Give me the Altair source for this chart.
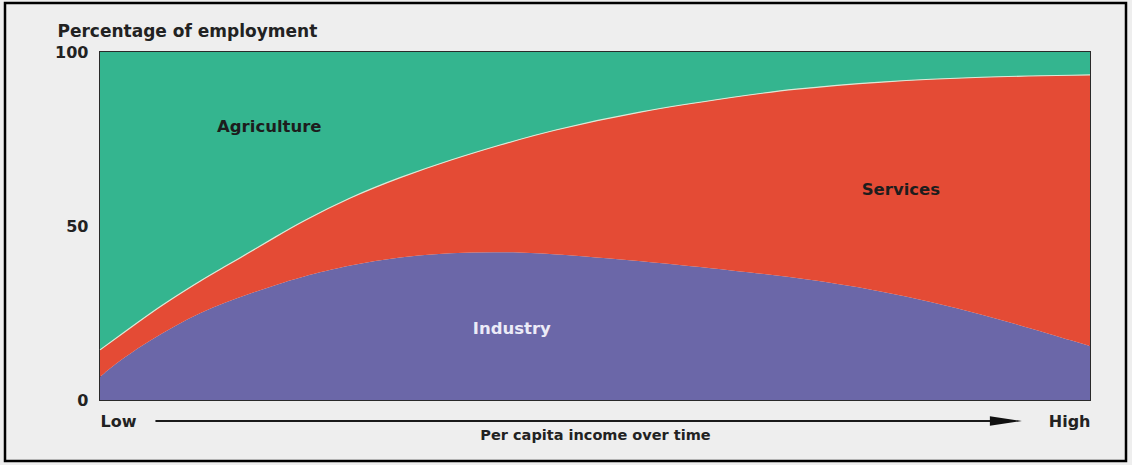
import altair as alt
import pandas as pd

# income position (0 = Low, 100 = High)
income = [0, 2.5, 5.1, 7.6, 10.1, 12.6, 15.2, 17.7, 20.2, 25.3, 30.3, 35.4, 40.4, 45.5, 54.5, 64.6, 69.7, 78.8, 88.9, 100]
industry = [6.7, 12.4, 17.2, 21.4, 25.0, 28.0, 30.7, 33.0, 35.3, 38.8, 41.2, 42.3, 42.6, 42.1, 40.0, 37.0, 35.4, 31.6, 25.0, 15.5]
services = [7.7, 7.2, 7.8, 8.3, 9.2, 10.3, 11.9, 13.8, 15.7, 19.5, 22.8, 26.7, 30.7, 35.3, 43.0, 50.3, 53.9, 59.9, 67.9, 77.9]
agriculture = [85.6, 80.4, 75.0, 70.3, 65.8, 61.7, 57.4, 53.2, 49.0, 41.7, 36.0, 31.0, 26.7, 22.6, 17.0, 12.7, 10.7, 8.5, 7.1, 6.6]

sectors = ["Industry", "Services", "Agriculture"]
colors = ["#6b67a8", "#e44b35", "#34b58f"]

# sector label anchors (data units)
label_text = ["Agriculture", "Services", "Industry"]
label_x = [17.1, 80.9, 41.6]
label_y = [78.4, 60.3, 20.4]
label_color = ["#1d1d1d", "#1d1d1d", "#ecebf7"]

FONT = "DejaVu Sans"
CURVE = "basis"

rows = []
for i, x in enumerate(income):
    for k, (name, vals) in enumerate(zip(sectors, [industry, services, agriculture])):
        rows.append({"income": x, "sector": name, "share": vals[i], "ord": k})
df = pd.DataFrame(rows)

bound = pd.DataFrame({"income": income,
                      "top": [a + b for a, b in zip(industry, services)]})

labels = pd.DataFrame({"t": label_text, "x": label_x, "y": label_y, "c": label_color})

xscale = alt.Scale(domain=[0, 100], nice=False, zero=False)
yscale = alt.Scale(domain=[0, 100], nice=False)

areas = alt.Chart(df).mark_area(interpolate=CURVE).encode(
    x=alt.X("income:Q", scale=xscale,
            axis=alt.Axis(values=[0, 100], grid=False, domain=False, ticks=False,
                          labelExpr="datum.value == 0 ? 'Low' : 'High'",
                          labelAlign={"condition": {"test": "datum.value == 0", "value": "left"}, "value": "right"},
                          labelFont=FONT, labelFontSize=16, labelFontWeight="bold", labelColor="#222",
                          labelPadding=13, labelBaseline="top", labelFlush=False,
                          title="Per capita income over time", titleFont=FONT, titleFontSize=14.5,
                          titleFontWeight="bold", titleColor="#222", titleX=495, titleY=35,
                          titleBaseline="middle", titleAlign="center")),
    y=alt.Y("share:Q", stack="zero", scale=yscale,
            axis=alt.Axis(values=[0, 50, 100], grid=False, domain=False, ticks=False,
                          labelFont=FONT, labelFontSize=16, labelFontWeight="bold", labelColor="#222",
                          labelPadding=12,
                          title="Percentage of employment", titleAngle=0, titleFont=FONT,
                          titleFontSize=17, titleFontWeight="bold", titleColor="#222",
                          titleX=-43, titleY=-21, titleAlign="left", titleBaseline="middle")),
    color=alt.Color("sector:N", scale=alt.Scale(domain=sectors, range=colors), legend=None),
    order=alt.Order("ord:Q"),
)

edge = alt.Chart(bound).mark_line(interpolate=CURVE, color="#dde8d6", strokeWidth=1.2).encode(
    x=alt.X("income:Q", scale=xscale),
    y=alt.Y("top:Q", scale=yscale),
)

text = alt.Chart(labels).mark_text(font=FONT, fontSize=16.5, fontWeight="bold").encode(
    x=alt.X("x:Q", scale=xscale),
    y=alt.Y("y:Q", scale=yscale),
    text="t:N",
    color=alt.Color("c:N", scale=None),
)

arrow_df = pd.DataFrame({"x0": [5.6], "x1": [91.5]})
arrow_line = alt.Chart(arrow_df).mark_rule(color="#1a1a1a", strokeWidth=2).encode(
    x=alt.X("x0:Q", scale=xscale),
    x2="x1:Q",
    y=alt.value(369),
)
arrow_head = alt.Chart(arrow_df).mark_point(
    shape="M-1,-0.3L1,0L-1,0.3Z", filled=True, color="#111", size=1024, opacity=1
).encode(
    x=alt.X("x1:Q", scale=xscale),
    y=alt.value(369),
)

frame = alt.Chart(arrow_df).mark_rect(fill=None, stroke="#000", strokeWidth=2.5).encode(
    x=alt.value(-95), x2=alt.value(1026), y=alt.value(-49), y2=alt.value(409)
)

chart = alt.layer(areas, edge, text, arrow_line, arrow_head, frame).properties(
    width=990, height=348,
    autosize=alt.AutoSizeParams(type="none"),
    padding={"left": 100, "top": 52, "right": 42, "bottom": 65},
    background="#eeeeee",
).configure_view(stroke="#2a2a2a", strokeWidth=2)

chart.save("out.html", embed_options={"renderer": "svg", "actions": False})
